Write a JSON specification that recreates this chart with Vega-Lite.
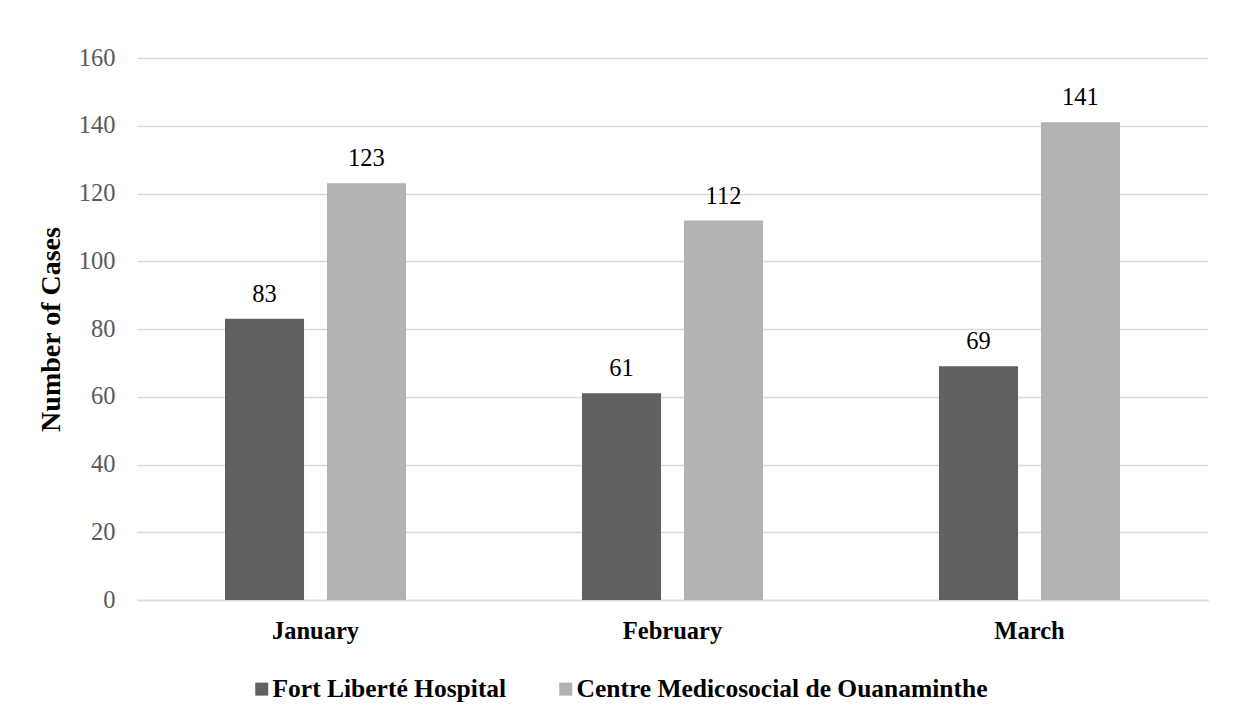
{
  "$schema": "https://vega.github.io/schema/vega-lite/v6.json",
  "width": 1071,
  "height": 542,
  "autosize": {"type": "none"},
  "padding": {"left": 137, "top": 58, "right": 28, "bottom": 119},
  "background": "white",
  "config": {
    "view": {"stroke": null},
    "font": "Liberation Serif",
    "axis": {"labelFont": "Liberation Serif", "titleFont": "Liberation Serif"},
    "legend": {"labelFont": "Liberation Serif"}
  },
  "data": {
    "values": [
      {"month": "January", "site": "Fort Liberté Hospital", "cases": 83},
      {"month": "January", "site": "Centre Medicosocial de Ouanaminthe", "cases": 123},
      {"month": "February", "site": "Fort Liberté Hospital", "cases": 61},
      {"month": "February", "site": "Centre Medicosocial de Ouanaminthe", "cases": 112},
      {"month": "March", "site": "Fort Liberté Hospital", "cases": 69},
      {"month": "March", "site": "Centre Medicosocial de Ouanaminthe", "cases": 141}
    ]
  },
  "encoding": {
    "x": {
      "field": "month",
      "type": "nominal",
      "sort": ["January", "February", "March"],
      "scale": {"paddingInner": 0.493, "paddingOuter": 0.2465},
      "axis": {
        "title": null,
        "labelAngle": 0,
        "labelFontSize": 24.5,
        "labelFontWeight": "bold",
        "labelColor": "#000000",
        "labelPadding": 19,
        "ticks": false,
        "domainColor": "#d9d9d9",
        "domainWidth": 1.5,
        "grid": false
      }
    },
    "xOffset": {
      "field": "site",
      "type": "nominal",
      "sort": ["Fort Liberté Hospital", "Centre Medicosocial de Ouanaminthe"],
      "scale": {"paddingInner": 0.225, "paddingOuter": 0}
    },
    "y": {
      "field": "cases",
      "type": "quantitative",
      "scale": {"domain": [0, 160]},
      "axis": {
        "title": "Number of Cases",
        "titleFontSize": 28,
        "titleFontWeight": "bold",
        "titleColor": "#000000",
        "titlePadding": 13,
        "values": [0, 20, 40, 60, 80, 100, 120, 140, 160],
        "labelFontSize": 24.5,
        "labelColor": "#595959",
        "labelPadding": 22,
        "ticks": false,
        "domain": false,
        "gridColor": "#d9d9d9",
        "gridWidth": 1.5
      }
    }
  },
  "layer": [
    {
      "mark": {"type": "bar"},
      "encoding": {
        "color": {
          "field": "site",
          "type": "nominal",
          "sort": ["Fort Liberté Hospital", "Centre Medicosocial de Ouanaminthe"],
          "scale": {"domain": ["Fort Liberté Hospital", "Centre Medicosocial de Ouanaminthe"], "range": ["#606060", "#b2b2b2"]},
          "legend": {
            "title": null,
            "orient": "none",
            "direction": "horizontal",
            "legendX": 112,
            "legendY": 618,
            "symbolType": "square",
            "symbolSize": 169,
            "symbolStrokeWidth": 0,
            "labelFontSize": 25.5,
            "labelFontWeight": "bold",
            "labelColor": "#000000",
            "labelOffset": -2,
            "labelLimit": 600,
            "columnPadding": 46
          }
        }
      }
    },
    {
      "mark": {"type": "text", "baseline": "alphabetic", "dy": -17, "fontSize": 24.5, "color": "#000000"},
      "encoding": {
        "text": {"field": "cases", "type": "quantitative"}
      }
    }
  ]
}
